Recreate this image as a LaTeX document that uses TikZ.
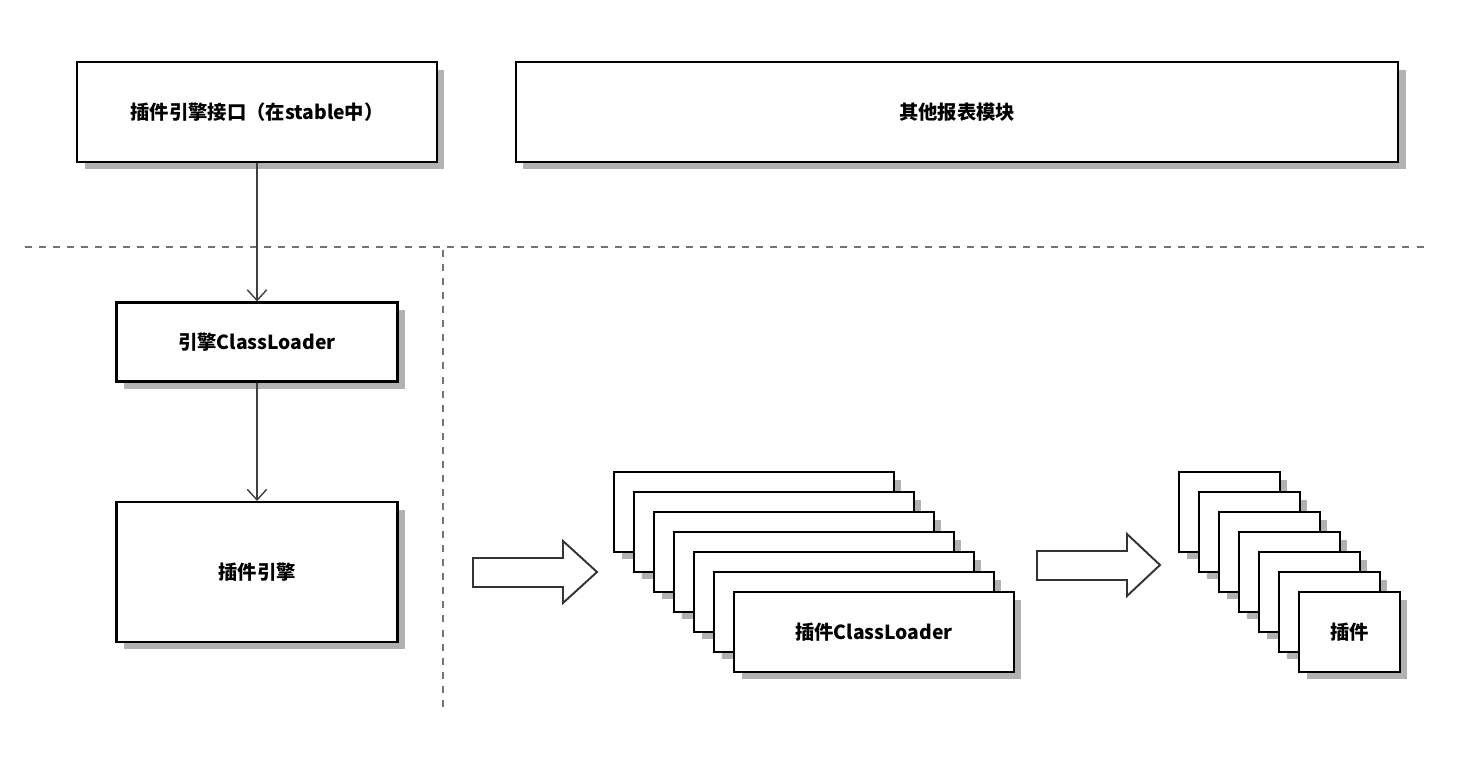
\documentclass[tikz,border=0pt]{standalone}
\usepackage{fontspec}
\newfontfamily\cjk{Noto Sans CJK SC}
\usetikzlibrary{shadows,arrows.meta}
\tikzset{
  box/.style={draw, line width=1.2pt, fill=white, font=\cjk\bfseries\fontsize{11}{13}\selectfont,
    drop shadow={shadow xshift=0.15cm, shadow yshift=-0.15cm, fill=black!30, opacity=1}},
  link/.style={draw=black!75, thick, -{Straight Barb[length=6pt,width=11pt]}},
  sep/.style={draw=black!55, thick, dash pattern=on 4pt off 4pt},
  hollow/.style={draw=black!80, line width=1.1pt, fill=white}
}
\begin{document}
\begin{tikzpicture}[x=0.02cm, y=-0.02cm]
\useasboundingbox (0,0) rectangle (1472,764);
% top row
\node[box, minimum width=7.2cm, minimum height=2cm] (api) at (257,112) {插件引擎接口（在stable中）};
\node[box, minimum width=17.66cm, minimum height=2cm] (other) at (957,112) {其他报表模块};
% separators
\draw[sep] (25,247) -- (1425,247);
\draw[sep] (443,250) -- (443,710);
% left column
\node[box, minimum width=5.62cm, minimum height=1.58cm] (loader) at (257,342) {引擎ClassLoader};
\node[box, minimum width=5.62cm, minimum height=2.8cm] (engine) at (257,572) {插件引擎};
\draw[link] (api) -- (loader);
\draw[link] (loader) -- (engine);
% hollow arrows
\draw[hollow] (473,558) -- (563,558) -- (563,541) -- (597,572) -- (563,603) -- (563,587) -- (473,587) -- cycle;
\draw[hollow] (1037,551) -- (1127,551) -- (1127,534) -- (1160,565) -- (1127,596) -- (1127,580) -- (1037,580) -- cycle;
% stacks
\foreach \i in {0,...,5}{
  \node[box, minimum width=5.6cm, minimum height=1.6cm] (cl\i) at (754+20*\i,512+20*\i) {};
  \node[box, minimum width=2.02cm, minimum height=1.6cm] (pl\i) at (1229.5+20*\i,512+20*\i) {};
}
\node[box, minimum width=5.6cm, minimum height=1.6cm] (cl6) at (874,632) {插件ClassLoader};
\node[box, minimum width=2.02cm, minimum height=1.6cm] (pl6) at (1349.5,632) {插件};
\end{tikzpicture}
\end{document}
